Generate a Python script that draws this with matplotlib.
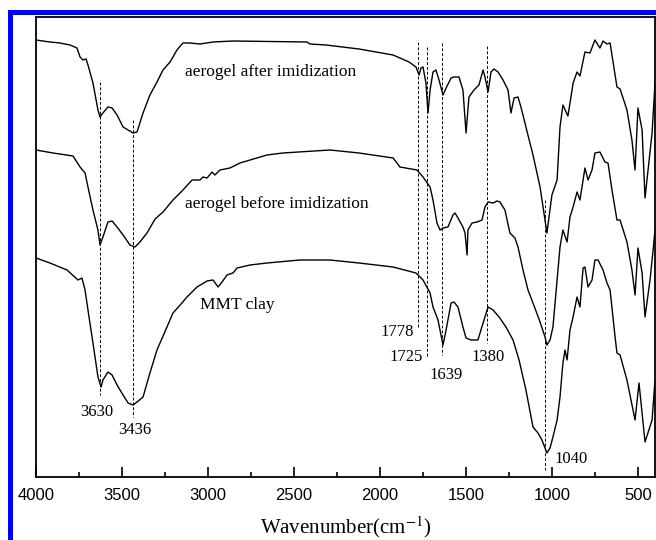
import matplotlib
matplotlib.use("Agg")
import matplotlib.pyplot as plt
from matplotlib.patches import Rectangle
from matplotlib.ticker import MultipleLocator

# FTIR spectra (wavenumber in cm-1, transmittance in arbitrary units, offset)
wn_after = [4000, 3919, 3861, 3802, 3762, 3744, 3727, 3709, 3698, 3669, 3640, 3628,
            3611, 3582, 3558, 3529, 3494, 3436, 3413, 3378, 3338, 3297, 3262, 3221,
            3181, 3146, 3105, 3047, 2971, 2855, 2425, 2408, 2315, 2123, 1925, 1832,
            1792, 1774, 1763, 1751, 1734, 1722, 1710, 1693, 1676, 1658, 1635, 1617,
            1588, 1571, 1542, 1519, 1501, 1484, 1455, 1426, 1402, 1391, 1373, 1356,
            1339, 1315, 1286, 1257, 1240, 1222, 1199, 1182, 1153, 1112, 1071, 1031,
            1002, 972, 955, 938, 909, 885, 879, 856, 839, 810, 781, 752, 723, 705,
            682, 664, 624, 606, 566, 537, 519, 502, 478, 461, 420, 403]
t_after = [437, 435, 434, 432, 429, 420, 417, 418, 412, 394, 367, 360,
           364, 370, 369, 362, 350, 344, 345, 364, 382, 395, 407, 415,
           427, 434, 434, 433, 435, 436, 435, 433, 432, 428, 422, 415,
           410, 402, 409, 410, 394, 364, 387, 405, 407, 397, 382, 389,
           399, 400, 400, 387, 344, 380, 387, 392, 407, 400, 385, 405,
           408, 405, 397, 387, 364, 379, 380, 370, 350, 322, 290, 244,
           282, 297, 350, 372, 361, 387, 394, 405, 401, 425, 424, 437, 429, 436,
           433, 434, 390, 388, 367, 337, 307, 369, 347, 279, 344, 394]

wn_before = [4000, 3901, 3785, 3744, 3715, 3698, 3669, 3640, 3628, 3611, 3582, 3558,
             3529, 3494, 3454, 3425, 3396, 3355, 3308, 3262, 3204, 3146, 3093, 3047,
             3030, 3006, 2977, 2960, 2931, 2873, 2815, 2658, 2565, 2292, 2123, 1925,
             1885, 1786, 1751, 1710, 1693, 1670, 1652, 1635, 1606, 1577, 1565, 1548,
             1519, 1507, 1495, 1490, 1466, 1437, 1408, 1391, 1373, 1344, 1321, 1304,
             1275, 1246, 1217, 1199, 1170, 1141, 1112, 1071, 1042, 1031, 1013, 996,
             955, 938, 914, 897, 879, 856, 839, 810, 792, 769, 752, 723, 694, 676,
             653, 624, 606, 566, 537, 519, 502, 478, 461, 432, 414, 403]
t_before = [327, 324, 321, 310, 304, 290, 267, 247, 232, 240, 255, 256,
            250, 242, 232, 230, 235, 244, 258, 265, 277, 287, 297, 297,
            300, 299, 305, 302, 307, 309, 314, 322, 324, 327, 324, 319,
            310, 307, 300, 290, 277, 254, 247, 249, 250, 262, 264, 259,
            250, 244, 222, 247, 254, 255, 257, 270, 275, 274, 276, 275,
            267, 244, 239, 230, 207, 187, 174, 155, 140, 132, 137, 150,
            230, 247, 235, 260, 270, 285, 277, 309, 297, 307, 324, 325, 315, 314,
            287, 257, 257, 235, 207, 182, 229, 204, 160, 197, 227, 247]

wn_mmt = [4000, 3919, 3820, 3756, 3733, 3715, 3698, 3669, 3640, 3622, 3611, 3582,
          3558, 3529, 3494, 3465, 3436, 3413, 3378, 3338, 3297, 3239, 3204, 3152,
          3123, 3064, 3006, 2971, 2942, 2919, 2890, 2855, 2832, 2756, 2658, 2466,
          2292, 2123, 1925, 1792, 1751, 1710, 1693, 1664, 1635, 1617, 1588, 1571,
          1548, 1519, 1501, 1472, 1432, 1402, 1373, 1344, 1309, 1269, 1228, 1193,
          1153, 1112, 1083, 1060, 1042, 1031, 1013, 996, 972, 955, 938, 926, 914,
          897, 879, 856, 839, 821, 810, 792, 769, 752, 734, 705, 682, 664, 635,
          624, 606, 566, 519, 496, 461, 420, 403]
t_mmt = [219, 214, 207, 197, 199, 187, 167, 134, 100, 90, 97, 105,
         102, 92, 82, 74, 72, 75, 80, 104, 127, 150, 164, 174,
         180, 190, 196, 197, 190, 195, 202, 204, 209, 212, 214, 217,
         217, 214, 210, 204, 197, 184, 170, 157, 132, 147, 174, 175,
         170, 150, 139, 137, 137, 154, 170, 167, 160, 150, 137, 117,
         87, 50, 44, 37, 29, 24, 29, 40, 57, 80, 114, 127, 117,
         147, 160, 180, 170, 209, 210, 190, 197, 217, 217, 207, 194, 187, 140,
         124, 122, 97, 57, 94, 35, 57, 97]

# marked bands: wavenumber, line top, line bottom
band_wn = [3630, 3436, 1778, 1725, 1639, 1380, 1040]
band_top = [395, 357, 435, 430, 434, 431, 277]
band_bot = [82, 60, 150, 120, 122, 134, 7]

# band labels: text, x, y
label_txt = ["3630", "3436", "1778", "1725", "1639", "1380", "1040"]
label_x = [3646, 3425, 1902, 1850, 1617, 1373, 891]
label_y = [65, 47, 145, 120, 102, 120, 18]

curve_names = ["aerogel after imidization", "aerogel before imidization", "MMT clay"]
name_x = [3134, 3134, 3047]
name_y = [405, 273, 172]

plt.rcParams['mathtext.fontset'] = 'stix'

fig = plt.figure(figsize=(6.56, 5.40), dpi=100)
ax = fig.add_axes([36 / 656, 63 / 540, 619 / 656, 460 / 540])

for wn, t in [(wn_after, t_after), (wn_before, t_before), (wn_mmt, t_mmt)]:
    ax.plot(wn, t, color='black', lw=1.0)

for w, y0, y1 in zip(band_wn, band_top, band_bot):
    ax.plot([w, w], [y0, y1], color='black', lw=0.7, ls=(0, (3, 2)))

for s, x, y in zip(label_txt, label_x, label_y):
    ax.text(x, y, s, ha='center', va='center', fontsize=12, family='Liberation Serif')

for s, x, y in zip(curve_names, name_x, name_y):
    ax.text(x, y, s, ha='left', va='center', fontsize=12.5, family='Liberation Serif')

ax.set_xlim(4000, 403)
ax.set_ylim(0, 460)
ax.xaxis.set_major_locator(MultipleLocator(500))
ax.xaxis.set_minor_locator(MultipleLocator(250))
ax.tick_params(axis='x', which='major', direction='in', length=7, width=1.2, pad=8,
               labelsize=12)
ax.tick_params(axis='x', which='minor', direction='in', length=3.5, width=1.2)
ax.set_yticks([])
for lbl in ax.get_xticklabels():
    lbl.set_family('Liberation Sans')
for sp in ax.spines.values():
    sp.set_linewidth(1.3)

ax.set_xlabel(r'Wavenumber(cm$^{-1}$)', fontsize=15, family='Liberation Serif', labelpad=8)

# blue frame at top and left edge of the picture
fig.add_artist(Rectangle((8 / 656, 1 - 15 / 540), 1, 5 / 540, transform=fig.transFigure,
                         color='#0000ff', lw=0))
fig.add_artist(Rectangle((8 / 656, 0), 5 / 656, 1 - 10 / 540, transform=fig.transFigure,
                         color='#0000ff', lw=0))

fig.savefig('out.png', dpi=100)
